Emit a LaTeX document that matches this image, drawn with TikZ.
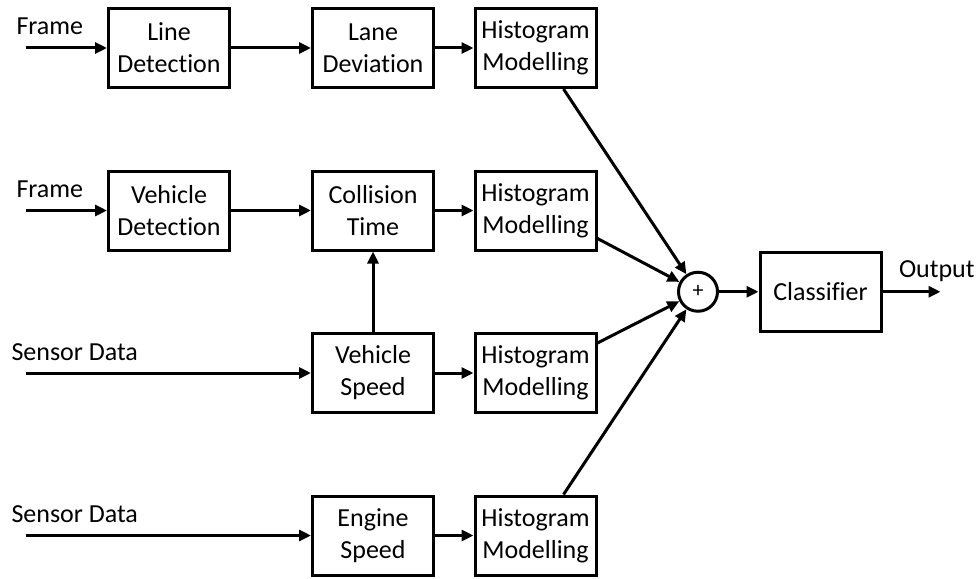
\documentclass[tikz,border=0pt]{standalone}
\usepackage{fontspec}
\setmainfont{Carlito}[Ligatures=NoCommon]
\usepackage{tikz}
\usetikzlibrary{arrows.meta}
\usetikzlibrary{positioning}

\begin{document}
\begin{tikzpicture}[x=1pt,y=-1pt,line width=3pt,node distance=162.5pt,>={Triangle[length=12pt,width=11pt]},font=\fontsize{26}{32}\selectfont,main node/.style={draw, align=center, minimum width=121pt, minimum height=79pt, inner sep=0pt},sum node/.style={circle, draw, minimum size=39pt, inner sep=0pt, font=\fontsize{22}{22}\selectfont},lbl/.style={anchor=base west, inner sep=0pt}]
	\useasboundingbox (0,0) rectangle (976,578);
	% Nodes
	\node[main node] (1) at (169,48) {Line\\Detection};
	\node[main node] (2) [right of=1, xshift=41.5pt] {Lane\\Deviation};
	\node[main node] (3) [right of=2] {Histogram\\Modelling};
	\node[main node] (4) [below of=1] {Vehicle\\Detection};
	\node[main node] (5) [below of=2] {Collision\\Time};
	\node[main node] (6) [below of=3] {Histogram\\Modelling};
	\node[main node] (7) [below of=5] {Vehicle\\Speed};
	\node[main node] (8) [below of=6] {Histogram\\Modelling};
	\node[main node] (9) [below of=7] {Engine\\Speed};
	\node[main node] (10) [below of=8] {Histogram\\Modelling};
	\node[sum node] (11) [right of=6, yshift=-81.25pt] {+};
	\node[main node] (12) [right of=11, xshift=-40pt] {Classifier};
	
	\coordinate (a) at ([xshift=-81pt]1.west);
	\coordinate (b) at ([xshift=-81pt]4.west);
	\coordinate (c) at ([xshift=-285pt]7.west);
	\coordinate (d) at ([xshift=-285pt]9.west);
	\coordinate (o) at ([xshift=58pt]12.east);
	
	\node[lbl] (la) at ([xshift=-11pt, yshift=13pt]a) {Frame};
	\node[lbl] (lb) at ([xshift=-11pt, yshift=13pt]b) {Frame};
	\node[lbl] (lc) at ([xshift=-16pt, yshift=13pt]c) {Sensor Data};
	\node[lbl] (ld) at ([xshift=-16pt, yshift=13pt]d) {Sensor Data};
	\node[lbl] (lo) at ([xshift=15pt, yshift=14pt]12.east) {Output};
	
	\path[->]
	(a) edge (1)
	(1) edge (2)
	(2) edge (3)
	
	(b) edge (4)
	(4) edge (5)
	(5) edge (6)
	
	(c) edge (7)
	(7) edge (5)
	(7) edge (8)
	
	(d) edge (9)
	(9) edge (10)
	
	([xshift=28pt]3.south) edge (11)
	([yshift=-28pt]6.east) edge (11)
	([yshift=30pt]8.east) edge (11)
	([xshift=28pt]10.north) edge (11)
	
	(11) edge (12)
	(12) edge (o);
	
\end{tikzpicture}
\end{document}
